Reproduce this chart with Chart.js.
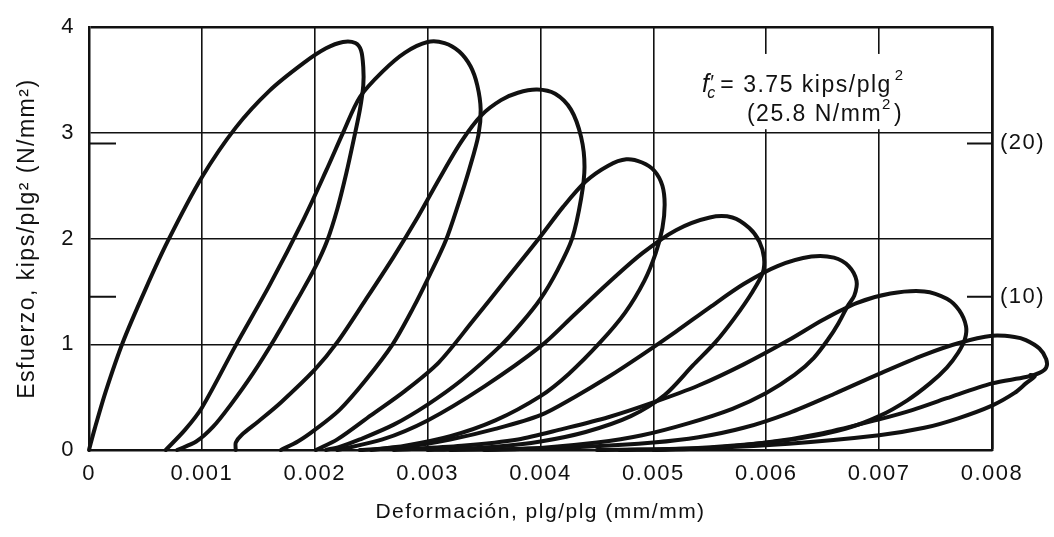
<!DOCTYPE html>
<html>
<head>
<meta charset="utf-8">
<title>Esfuerzo - deformación, carga cíclica</title>
<script src="https://cdn.jsdelivr.net/npm/chart.js@4.4.1/dist/chart.umd.min.js"></script>
<style>
  html, body { margin: 0; padding: 0; background: #fff; }
</style>
</head>
<body>
<canvas id="chart" width="1054" height="537"></canvas>
<script>
// each cycle: [strain (plg/plg), stress (kips/plg2)],
// reloading branch up to the peak, then the unloading branch back to zero stress
const cycle1 = [
  [0, 0], [0.00005, 0.2], [0.00015, 0.56], [0.0003, 1.02], [0.0005, 1.52], [0.0007, 1.98],
  [0.001, 2.58], [0.0013, 3.05], [0.0016, 3.4], [0.0019, 3.66], [0.0021, 3.8], [0.00225, 3.86],
  [0.00236, 3.85], [0.00241, 3.78], [0.00243, 3.62], [0.00243, 3.45], [0.0024, 3.22], [0.00235, 2.96],
  [0.00228, 2.62], [0.0022, 2.28], [0.00211, 1.98], [0.002, 1.72], [0.00185, 1.43], [0.00165, 1.06],
  [0.00145, 0.72], [0.00125, 0.42], [0.0011, 0.22], [0.00095, 0.08], [0.00078, 0]
];
const cycle2 = [
  [0.00068, 0], [0.00085, 0.19], [0.001, 0.4], [0.0013, 0.99], [0.0016, 1.56], [0.0019, 2.18],
  [0.0021, 2.64], [0.00225, 3.0], [0.0024, 3.34], [0.0026, 3.58], [0.0028, 3.76], [0.003, 3.86],
  [0.00315, 3.85], [0.00328, 3.77], [0.00338, 3.63], [0.00344, 3.45], [0.00347, 3.22], [0.00345, 2.98],
  [0.00337, 2.66], [0.00327, 2.32], [0.00316, 1.98], [0.00302, 1.66], [0.00287, 1.34], [0.00269, 1.0],
  [0.00245, 0.66], [0.00222, 0.38], [0.002, 0.19], [0.00185, 0.08], [0.0017, 0]
];
const cycle3 = [
  [0.0013, 0], [0.0013, 0.07], [0.00135, 0.14], [0.0015, 0.27], [0.0017, 0.45], [0.002, 0.76],
  [0.0022, 1.02], [0.00245, 1.42], [0.0027, 1.83], [0.0029, 2.18], [0.0031, 2.56], [0.0033, 2.92],
  [0.00348, 3.17], [0.00365, 3.31], [0.0038, 3.38], [0.00397, 3.41], [0.00413, 3.37], [0.00427, 3.22],
  [0.00436, 2.96], [0.00439, 2.68], [0.00436, 2.38], [0.00428, 2.0], [0.00415, 1.7], [0.004, 1.43],
  [0.00383, 1.2], [0.00365, 0.99], [0.0033, 0.66], [0.003, 0.43], [0.0027, 0.24], [0.0024, 0.1],
  [0.00222, 0.03], [0.0021, 0]
];
const cycle4 = [
  [0.00201, 0], [0.0022, 0.1], [0.0025, 0.33], [0.0028, 0.56], [0.0031, 0.83], [0.0034, 1.22],
  [0.0037, 1.62], [0.004, 2.02], [0.0042, 2.3], [0.0044, 2.54], [0.0046, 2.69], [0.00476, 2.75],
  [0.0049, 2.72], [0.00501, 2.64], [0.00508, 2.5], [0.0051, 2.32], [0.00508, 2.1], [0.00502, 1.86],
  [0.00492, 1.6], [0.00475, 1.3], [0.00453, 1.02], [0.00425, 0.72], [0.004, 0.51], [0.0036, 0.28],
  [0.0032, 0.13], [0.0028, 0.04], [0.0025, 0]
];
const cycle5 = [
  [0.0022, 0], [0.0026, 0.1], [0.003, 0.28], [0.0035, 0.6], [0.004, 0.98], [0.0043, 1.28],
  [0.0046, 1.58], [0.0049, 1.86], [0.0052, 2.08], [0.0055, 2.2], [0.0057, 2.2], [0.00585, 2.1],
  [0.00594, 1.97], [0.00598, 1.82], [0.00597, 1.68], [0.00588, 1.5], [0.00572, 1.25], [0.00555, 1.02],
  [0.00535, 0.8], [0.0051, 0.52], [0.0048, 0.32], [0.0044, 0.17], [0.004, 0.08], [0.0036, 0.03],
  [0.0032, 0.005], [0.003, 0]
];
const cycle6 = [
  [0.0024, 0], [0.0028, 0.03], [0.0032, 0.1], [0.0036, 0.2], [0.004, 0.33], [0.0043, 0.5],
  [0.0046, 0.69], [0.0049, 0.9], [0.0052, 1.12], [0.0055, 1.35], [0.0058, 1.57], [0.0061, 1.74],
  [0.0064, 1.83], [0.0066, 1.82], [0.00673, 1.74], [0.0068, 1.6], [0.00678, 1.46], [0.00672, 1.36],
  [0.00664, 1.2], [0.00655, 1.05], [0.00642, 0.87], [0.00625, 0.71], [0.006, 0.54], [0.0057, 0.39],
  [0.0053, 0.25], [0.0049, 0.14], [0.0045, 0.07], [0.004, 0.02], [0.0035, 0]
];
const cycle7 = [
  [0.0027, 0], [0.0033, 0.04], [0.0038, 0.1], [0.0042, 0.2], [0.0046, 0.31], [0.005, 0.45],
  [0.0054, 0.61], [0.0058, 0.81], [0.0062, 1.04], [0.0065, 1.23], [0.0068, 1.39], [0.0071, 1.48],
  [0.0074, 1.5], [0.0076, 1.43], [0.00771, 1.32], [0.00777, 1.17], [0.00776, 1.05], [0.0077, 0.92],
  [0.0076, 0.78], [0.00745, 0.63], [0.00725, 0.47], [0.007, 0.32], [0.0067, 0.2], [0.0063, 0.11],
  [0.0058, 0.05], [0.0052, 0.01], [0.0047, 0]
];
const cycle8 = [
  [0.0032, 0], [0.0038, 0.01], [0.0044, 0.03], [0.005, 0.07], [0.0054, 0.12], [0.0058, 0.21],
  [0.0062, 0.35], [0.0066, 0.53], [0.007, 0.72], [0.0074, 0.9], [0.0077, 1.01], [0.008, 1.08],
  [0.0082, 1.07], [0.0083, 1.04], [0.00842, 0.96], [0.00848, 0.86], [0.00848, 0.78], [0.00842, 0.73],
  [0.0083, 0.69], [0.008, 0.63], [0.0076, 0.49], [0.0073, 0.38], [0.007, 0.29], [0.0065, 0.16],
  [0.006, 0.07], [0.0055, 0.02], [0.005, 0]
];
const cycle9 = [
  [0.0045, 0], [0.0055, 0.02], [0.0062, 0.06], [0.007, 0.14], [0.0074, 0.21], [0.0077, 0.3],
  [0.008, 0.42], [0.0082, 0.54], [0.0083, 0.63], [0.00838, 0.7], [0.00834, 0.71]
];

const xTickValues = [0, 0.001, 0.002, 0.003, 0.004, 0.005, 0.006, 0.007, 0.008];
const xTickLabels = ['0', '0.001', '0.002', '0.003', '0.004', '0.005', '0.006', '0.007', '0.008'];
const yTickValues = [0, 1, 2, 3, 4];
const yTickLabels = ['0', '1', '2', '3', '4'];
const mpaTicks = [10, 20];          // right-hand marks in N/mm2
const KSI_TO_MPA = 6.895;

const INK = '#111';
const FAMILY = "'Liberation Sans', Arial, sans-serif";
Chart.defaults.font.family = FAMILY;
Chart.defaults.color = INK;

const cycles = [cycle1, cycle2, cycle3, cycle4, cycle5, cycle6, cycle7, cycle8, cycle9];

const datasets = cycles.map((pts, i) => ({
  data: pts.map(p => ({ x: p[0], y: p[1] })),
  showLine: true,
  borderColor: INK,
  borderWidth: 4,
  borderJoinStyle: 'round',
  borderCapStyle: 'round',
  pointRadius: 0,
  pointHoverRadius: 0,
  tension: 0.3,
  clip: false,
  // the last two loops run past the right border
  capBezierPoints: i < 7
}));

// wide letter spacing of the old typeset figure
const paper = {
  id: 'paper',
  beforeDraw(chart) {
    const ctx = chart.ctx;
    ctx.save();
    ctx.fillStyle = '#fff';
    ctx.fillRect(0, 0, chart.width, chart.height);
    ctx.restore();
    ctx.letterSpacing = '1.5px';
  }
};

// f'c note with its white patch, and the short inner ticks at 10 and 20 N/mm2
const notes = {
  id: 'notes',
  beforeDatasetsDraw(chart) {
    const { ctx, chartArea: a, scales: { x, y, y2 } } = chart;
    ctx.save();
    ctx.strokeStyle = INK;
    ctx.lineWidth = 2;
    mpaTicks.forEach(v => {
      const py = y2.getPixelForValue(v);
      ctx.beginPath();
      ctx.moveTo(a.left, py); ctx.lineTo(a.left + 27, py);
      ctx.moveTo(a.right - 25, py); ctx.lineTo(a.right, py);
      ctx.stroke();
    });

    const bx0 = x.getPixelForValue(0.005395), bx1 = x.getPixelForValue(0.00738);
    const by0 = y.getPixelForValue(3.747), by1 = y.getPixelForValue(3.035);
    ctx.fillStyle = '#fff';
    ctx.fillRect(bx0, by0, bx1 - bx0, by1 - by0);

    ctx.fillStyle = INK;
    ctx.textBaseline = 'alphabetic';
    ctx.textAlign = 'left';
    let px = x.getPixelForValue(0.00543);
    let base = y.getPixelForValue(3.391);
    ctx.font = 'italic 25px ' + FAMILY;
    ctx.fillText('f', px, base);
    const fw = ctx.measureText('f').width;
    ctx.font = '20px ' + FAMILY;
    ctx.fillText('\u2032', px + fw, base - 3);
    ctx.font = 'italic 16px ' + FAMILY;
    ctx.fillText('c', px + fw - 3, base + 6);
    px += fw + 10;
    ctx.font = '23px ' + FAMILY;
    const t1 = '= 3.75 kips/plg';
    ctx.fillText(t1, px, base);
    px += ctx.measureText(t1).width + 3;
    ctx.font = '15px ' + FAMILY;
    ctx.fillText('2', px, base - 12);

    px = x.getPixelForValue(0.005829);
    base = y.getPixelForValue(3.11);
    ctx.font = '23px ' + FAMILY;
    const t2 = '(25.8 N/mm';
    ctx.fillText(t2, px, base);
    px += ctx.measureText(t2).width;
    ctx.font = '15px ' + FAMILY;
    ctx.fillText('2', px, base - 12);
    px += ctx.measureText('2').width + 2;
    ctx.font = '23px ' + FAMILY;
    ctx.fillText(')', px, base);
    ctx.restore();
  }
};

new Chart(document.getElementById('chart'), {
  type: 'scatter',
  data: { datasets },
  plugins: [paper, notes],
  options: {
    responsive: false,
    animation: false,
    events: [],
    layout: { padding: { top: 23, right: 0, bottom: 0, left: 0 } },
    plugins: { legend: { display: false }, tooltip: { enabled: false } },
    scales: {
      x: {
        type: 'linear',
        min: 0,
        max: 0.008,
        afterFit: s => { s.height = 87; },
        afterBuildTicks: s => { s.ticks = xTickValues.map(v => ({ value: v })); },
        ticks: {
          callback: (v, i) => xTickLabels[i],
          autoSkip: false,
          maxRotation: 0,
          padding: 11,
          font: { size: 22 }
        },
        grid: {
          color: INK,
          lineWidth: c => (c.tick && c.tick.value === 0.008 ? 2.5 : 1.6),
          drawTicks: false
        },
        border: { color: INK, width: 2.5 },
        title: {
          display: true,
          text: 'Deformación, plg/plg (mm/mm)',
          font: { size: 21 },
          padding: { top: 0, bottom: 12 }
        }
      },
      y: {
        type: 'linear',
        position: 'left',
        min: 0,
        max: 4,
        afterFit: s => { s.width = 89; },
        afterBuildTicks: s => { s.ticks = yTickValues.map(v => ({ value: v })); },
        ticks: {
          callback: (v, i) => yTickLabels[i],
          padding: 14,
          font: { size: 22 }
        },
        grid: {
          color: INK,
          lineWidth: c => (c.tick && c.tick.value === 4 ? 2.5 : 1.6),
          drawTicks: false
        },
        border: { color: INK, width: 2.5 },
        title: {
          display: true,
          text: 'Esfuerzo, kips/plg² (N/mm²)',
          font: { size: 23 },
          padding: { top: 14, bottom: 0 }
        }
      },
      y2: {
        type: 'linear',
        position: 'right',
        min: 0,
        max: 4 * KSI_TO_MPA,
        afterFit: s => { s.width = 62; },
        afterBuildTicks: s => { s.ticks = mpaTicks.map(v => ({ value: v })); },
        ticks: {
          callback: v => '(' + v + ')',
          padding: 8,
          font: { size: 22 }
        },
        grid: { display: false, drawTicks: false },
        border: { color: INK, width: 2.5 }
      }
    }
  }
});
</script>
</body>
</html>
